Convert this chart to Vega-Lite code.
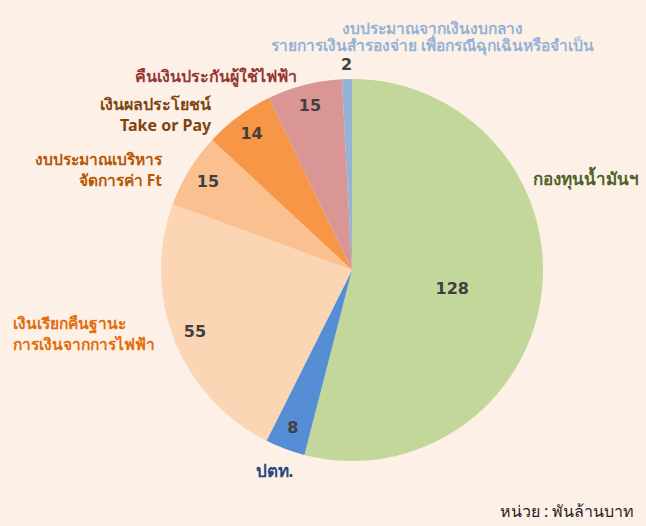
{
  "$schema": "https://vega.github.io/schema/vega-lite/v6.json",
  "width": 588,
  "height": 512,
  "autosize": "none",
  "padding": {"left": 58, "top": 14, "right": 0, "bottom": 0},
  "background": "#FDF0E6",
  "config": {"view": {"stroke": null}},
  "title": {"text": "หน่วย : พันล้านบาท", "orient": "bottom", "anchor": "end", "offset": -22, "dx": -12, "font": "Noto Sans", "fontSize": 16, "fontWeight": "normal", "color": "#262626"},
  "data": {"values": [
    {"i": 1, "cat": "กองทุนน้ำมันฯ", "v": 128},
    {"i": 2, "cat": "ปตท.", "v": 8},
    {"i": 3, "cat": "เงินเรียกคืนฐานะ\nการเงินจากการไฟฟ้า", "v": 55},
    {"i": 4, "cat": "งบประมาณเบริหาร\nจัดการค่า Ft", "v": 15},
    {"i": 5, "cat": "เงินผลประโยชน์\nTake or Pay", "v": 14},
    {"i": 6, "cat": "คืนเงินประกันผู้ใช้ไฟฟ้า", "v": 15},
    {"i": 7, "cat": "งบประมาณจากเงินงบกลาง\nรายการเงินสำรองจ่าย เพื่อกรณีฉุกเฉินหรือจำเป็น", "v": 2}
  ]},
  "encoding": {
    "theta": {"field": "v", "type": "quantitative", "stack": true},
    "order": {"field": "i", "type": "quantitative"}
  },
  "layer": [
    {
      "mark": {"type": "arc", "outerRadius": 191},
      "encoding": {
        "color": {"field": "i", "type": "nominal", "legend": null,
          "scale": {"domain": [1, 2, 3, 4, 5, 6, 7], "range": ["#C4D79B", "#558ED5", "#FCD5B4", "#FAC090", "#F79646", "#D99694", "#95B3D7"]}}
      }
    },
    {
      "mark": {"type": "text", "radius": 169, "font": "DejaVu Sans", "fontSize": 16, "fontWeight": "bold", "color": "#404040"},
      "encoding": {"text": {"condition": {"test": "datum.i >= 2 && datum.i <= 6", "field": "v", "type": "quantitative"}, "value": ""}}
    },
    {
      "mark": {"type": "text", "radius": 101, "dy": 6, "font": "DejaVu Sans", "fontSize": 16, "fontWeight": "bold", "color": "#404040"},
      "encoding": {"text": {"condition": {"test": "datum.i === 1", "field": "v", "type": "quantitative"}, "value": ""}}
    },
    {
      "mark": {"type": "text", "radius": 205, "font": "DejaVu Sans", "fontSize": 16, "fontWeight": "bold", "color": "#404040"},
      "encoding": {"text": {"condition": {"test": "datum.i === 7", "field": "v", "type": "quantitative"}, "value": ""}}
    },
    {
      "mark": {"type": "text", "radius": 210, "dx": -27, "dy": -116, "align": "left", "baseline": "middle", "font": "Noto Sans", "fontSize": 17, "fontWeight": "bold", "color": "#4F6228", "lineBreak": "\n", "lineHeight": 21},
      "encoding": {"text": {"condition": {"test": "datum.i === 1", "field": "cat"}, "value": ""}}
    },
    {
      "mark": {"type": "text", "radius": 210, "dx": -4, "dy": 5, "align": "center", "baseline": "middle", "font": "Noto Sans", "fontSize": 17, "fontWeight": "bold", "color": "#1F497D", "lineBreak": "\n", "lineHeight": 21},
      "encoding": {"text": {"condition": {"test": "datum.i === 2", "field": "cat"}, "value": ""}}
    },
    {
      "mark": {"type": "text", "radius": 210, "dx": -144, "dy": -23, "align": "left", "baseline": "middle", "font": "Noto Sans", "fontSize": 15.5, "fontWeight": "bold", "color": "#E46C0A", "lineBreak": "\n", "lineHeight": 21},
      "encoding": {"text": {"condition": {"test": "datum.i === 3", "field": "cat"}, "value": ""}}
    },
    {
      "mark": {"type": "text", "radius": 210, "dx": -11, "dy": 0, "align": "right", "baseline": "middle", "font": "Noto Sans", "fontSize": 15.5, "fontWeight": "bold", "color": "#B65708", "lineBreak": "\n", "lineHeight": 21},
      "encoding": {"text": {"condition": {"test": "datum.i === 4", "field": "cat"}, "value": ""}}
    },
    {
      "mark": {"type": "text", "radius": 210, "dx": -16, "dy": 4, "align": "right", "baseline": "middle", "font": "Noto Sans", "fontSize": 16, "fontWeight": "bold", "color": "#7F4410", "lineBreak": "\n", "lineHeight": 21},
      "encoding": {"text": {"condition": {"test": "datum.i === 5", "field": "cat"}, "value": ""}}
    },
    {
      "mark": {"type": "text", "radius": 210, "dx": -3, "dy": 10, "align": "right", "baseline": "middle", "font": "Noto Sans", "fontSize": 16, "fontWeight": "bold", "color": "#953735", "lineBreak": "\n", "lineHeight": 21},
      "encoding": {"text": {"condition": {"test": "datum.i === 6", "field": "cat"}, "value": ""}}
    },
    {
      "mark": {"type": "text", "radius": 210, "dx": 86, "dy": -31, "align": "center", "baseline": "middle", "font": "Noto Sans", "fontSize": 15.5, "fontWeight": "bold", "color": "#95B3D7", "lineBreak": "\n", "lineHeight": 17},
      "encoding": {"text": {"condition": {"test": "datum.i === 7", "field": "cat"}, "value": ""}}
    }
  ]
}
